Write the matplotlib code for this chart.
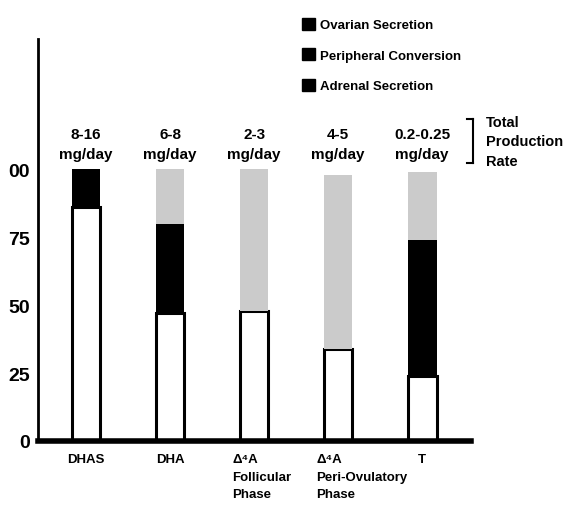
import matplotlib.pyplot as plt
from matplotlib.patches import Patch
from matplotlib.lines import Line2D
import numpy as np

plt.rcParams['font.family'] = ['Liberation Sans', 'DejaVu Sans']
plt.rcParams['font.weight'] = 'bold'

categories = ['DHAS', 'DHA', 'Δ⁴A\nFollicular\nPhase', 'Δ⁴A\nPeri-Ovulatory\nPhase', 'T']
rates = ['8-16\nmg/day', '6-8\nmg/day', '2-3\nmg/day', '4-5\nmg/day', '0.2-0.25\nmg/day']
adrenal = [86, 47, 48, 34, 24]
peripheral = [14, 33, 0, 0, 50]
ovarian = [0, 20, 52, 64, 25]
yticks = [0, 25, 50, 75, 100]
ytick_labels = ['0', '25', '50', '75', '00']

fig = plt.figure(figsize=(5.63, 5.06), dpi=100)
ax = fig.add_axes([38/563, 1-442/506, (471-38)/563, (442-40)/506])

x = np.arange(len(categories))
w = 0.34
adrenal = np.array(adrenal)
peripheral = np.array(peripheral)
ovarian = np.array(ovarian)

ax.bar(x, adrenal, w, color='white', edgecolor='black', linewidth=2.2)
ax.bar(x, peripheral, w, bottom=adrenal, color='black', linewidth=0)
ax.bar(x, ovarian, w, bottom=adrenal + peripheral, color='#cbcbcb', linewidth=0)

for xi, r in zip(x, rates):
    ax.text(xi, 103, r, ha='center', va='bottom', fontsize=11, linespacing=1.55)

ax.set_xlim(-0.57, 4.58)
ax.set_ylim(0, 148)
ax.set_yticks(yticks)
ax.set_yticklabels(ytick_labels, fontsize=14)
ax.tick_params(axis='y', length=0, pad=6)
ax.set_xticks(x)
ax.set_xticklabels([])
ax.tick_params(axis='x', length=0)
for xi, c in zip(x, categories):
    if xi in (2, 3):
        ax.text(xi - 0.26, -4.5, c, ha='left', va='top', fontsize=9.5, linespacing=1.6)
    else:
        ax.text(xi, -4.5, c, ha='center', va='top', fontsize=9.5)

for s in ['top', 'right']:
    ax.spines[s].set_visible(False)
ax.spines['left'].set_linewidth(2)
ax.spines['bottom'].set_linewidth(4)

# legend (all squares black, as in the print)
handles = [Patch(facecolor='black', edgecolor='black') for _ in range(3)]
labels = ['Ovarian Secretion', 'Peripheral Conversion', 'Adrenal Secretion']
fig.legend(handles, labels, loc='upper left', bbox_to_anchor=(290/563, 1-7/506),
           frameon=False, fontsize=9.5, handlelength=1.0, handleheight=1.0,
           handletextpad=0.4, labelspacing=1.3)

# bracket + total production rate note
fig.add_artist(Line2D([473/563, 473/563], [1-120/506, 1-164/506], color='black', lw=1.5))
fig.add_artist(Line2D([467/563, 473/563], [1-120/506, 1-120/506], color='black', lw=1.5))
fig.add_artist(Line2D([467/563, 473/563], [1-164/506, 1-164/506], color='black', lw=1.5))
fig.text(486/563, 1-116/506, 'Total\nProduction\nRate', ha='left', va='top', fontsize=10.5, linespacing=1.5)

fig.savefig('out.png', dpi=100)
